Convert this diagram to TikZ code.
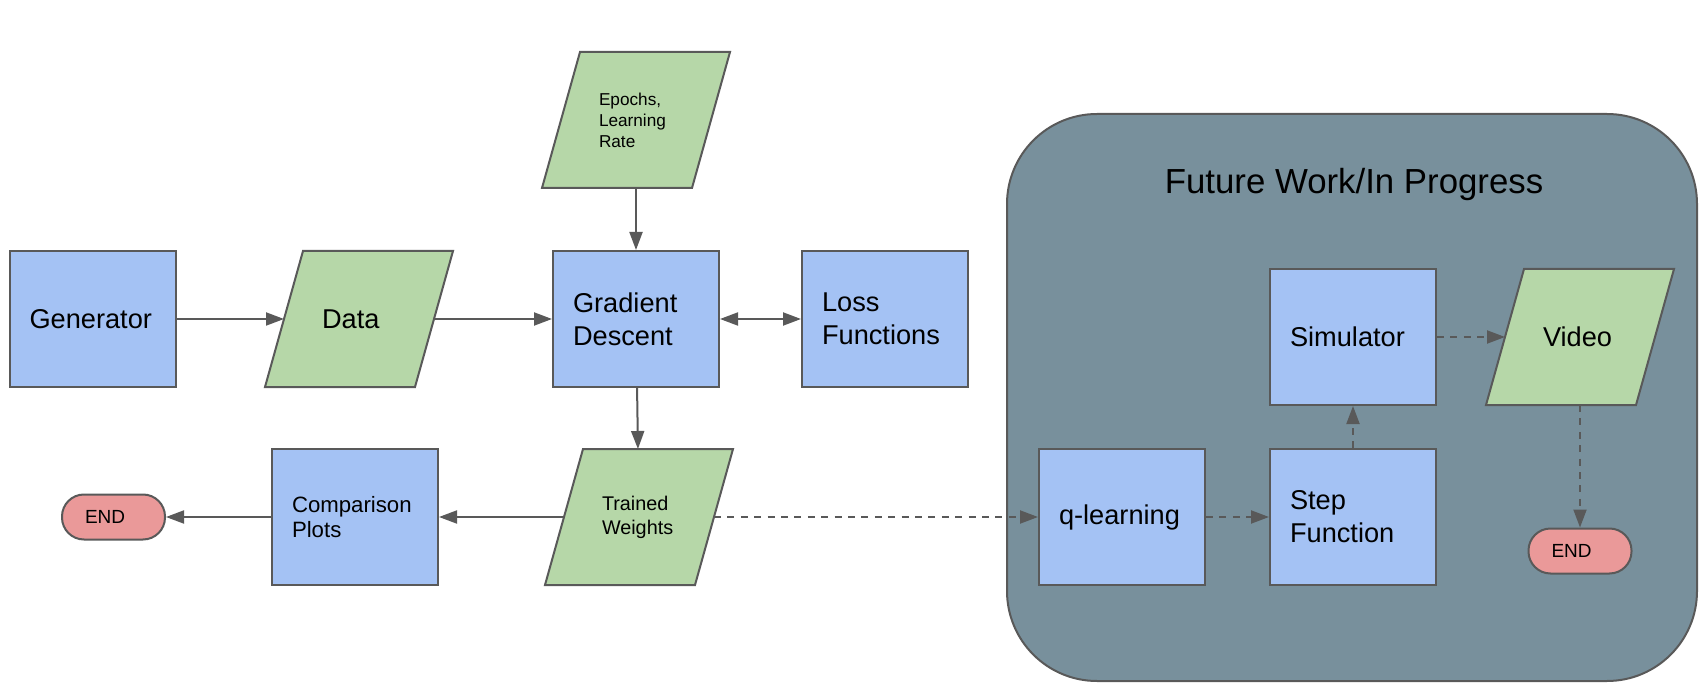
\documentclass[tikz,border=0pt]{standalone}
\usepackage{fontspec}
\setmainfont{Liberation Sans}
\usetikzlibrary{arrows.meta}
\pgfdeclarelayer{bg}\pgfdeclarelayer{mid}
\pgfsetlayers{bg,mid,main}
\definecolor{boxblue}{HTML}{A4C2F4}
\definecolor{boxgreen}{HTML}{B6D7A8}
\definecolor{boxred}{HTML}{EA9999}
\definecolor{contgrey}{HTML}{78909C}
\definecolor{linegrey}{HTML}{595959}
\begin{document}
\begin{tikzpicture}[x=0.5pt,y=-0.5pt,
  proc/.style={draw=linegrey, line width=1pt, fill=boxblue, rectangle,
    minimum height=68pt, inner xsep=10pt, inner ysep=0pt, text width=63pt, align=left},
  para/.style={rectangle, outer sep=0pt, minimum height=68pt, inner xsep=19pt,
    inner ysep=0pt, text width=37pt, align=left},
  paradraw/.style={draw=linegrey, line width=1pt, fill=boxgreen, line join=miter},
  endbox/.style={draw=linegrey, line width=1pt, fill=boxred, rectangle, rounded corners=11pt,
    minimum height=22.5pt, inner xsep=11.5pt, inner ysep=0pt, text width=28.5pt, align=left,
    font=\fontsize{9.5}{11}\selectfont},
  container/.style={draw=linegrey, line width=1pt, fill=contgrey, rectangle, rounded corners=45pt,
    minimum width=345pt, minimum height=283.5pt},
  large/.style={font=\fontsize{13.6}{16.5}\selectfont},
  medium/.style={font=\fontsize{11.1}{12.5}\selectfont},
  small/.style={font=\fontsize{9.9}{12}\selectfont},
  tiny/.style={font=\fontsize{8.6}{10.5}\selectfont},
  titlefont/.style={font=\fontsize{17.4}{20}\selectfont},
  tip/.tip={Triangle[length=9pt,width=6.5pt]},
  arr/.style={draw=linegrey, line width=1pt, -tip},
  darr/.style={arr, dash pattern=on 3.5pt off 3.2pt}
]
\useasboundingbox (0,0) rectangle (1703,695);

\begin{pgfonlayer}{bg}
\node[container] (cont) at (1352,397.5) {};
\end{pgfonlayer}
\node[titlefont] (title) at (1354,185) {Future Work/In Progress};

% process boxes
\node[proc, large] (gen) at (92.5,319) {Generator};
\node[proc, large] (gd) at (636,319) {Gradient\\Descent};
\node[proc, large] (loss) at (885,319) {Loss\\Functions};
\node[proc, medium] (comp) at (355,517) {Comparison\\Plots};
\node[proc, large] (sim) at (1353,337) {Simulator};
\node[proc, large] (ql) at (1122,517) {q-learning};
\node[proc, large] (step) at (1353,517) {Step\\Function};

% data (parallelogram) nodes
\node[para, large] (data) at (359,319) {Data};
\node[para, tiny] (epochs) at (636,120) {Epochs,\\Learning\\Rate};
\node[para, small] (tw) at (639,517) {Trained\\Weights};
\node[para, large] (video) at (1580,337) {Video};

\begin{pgfonlayer}{mid}
\foreach \n in {data,epochs,tw,video}
  \draw[paradraw] ([xshift=9.5pt]\n.north west) -- ([xshift=9.5pt]\n.north east)
    -- ([xshift=-9.5pt]\n.south east) -- ([xshift=-9.5pt]\n.south west) -- cycle;
\end{pgfonlayer}

% terminators
\node[endbox] (end1) at (113.5,517) {END};
\node[endbox] (end2) at (1580,551) {END};

% connectors
\draw[arr] (gen) -- (data);
\draw[arr] (data) -- (gd);
\draw[arr] (epochs) -- (gd);
\draw[arr, tip-tip] (gd) -- (loss);
\draw[arr] (gd) -- (tw);
\draw[arr] (tw) -- (comp);
\draw[arr] (comp) -- (end1);
\draw[darr] (tw) -- (ql);
\draw[darr] (ql) -- (step);
\draw[darr] (step) -- (sim);
\draw[darr] (sim) -- (video);
\draw[darr] (video) -- (end2);
\end{tikzpicture}
\end{document}
